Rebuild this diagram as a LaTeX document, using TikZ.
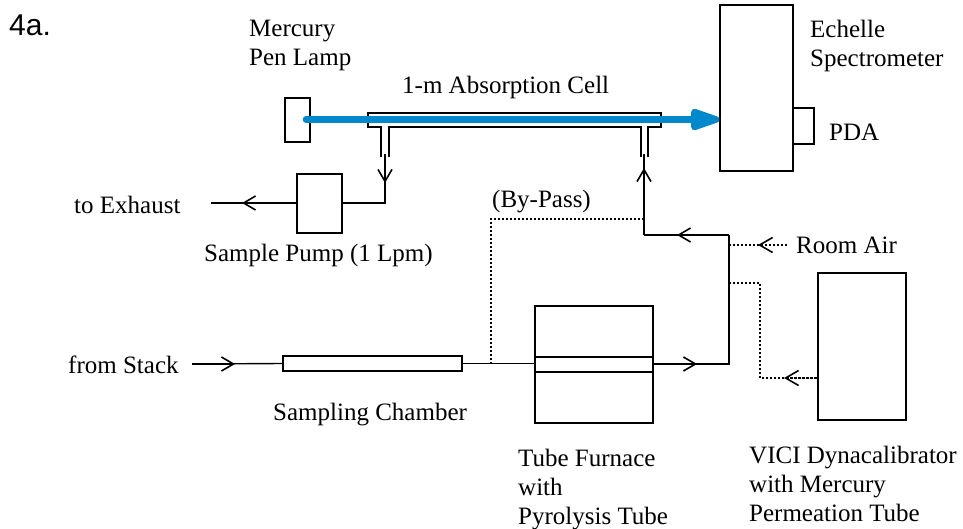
\documentclass[tikz,border=0pt]{standalone}
\usepackage{fontspec}
\setmainfont{Liberation Serif}
\newfontfamily\labelfont{Liberation Sans}
\usetikzlibrary{positioning,arrows.meta}
\definecolor{beamblue}{HTML}{0088CC}
\tikzset{block/.style={draw,line width=1.4pt,inner sep=0pt},
         txt/.style={inner sep=0pt,align=left,anchor=north west,font=\fontsize{25}{29}\selectfont},
         line/.style={line width=1.4pt},
         flow/.style={line width=1.4pt,-{Straight Barb[length=12pt,width=14pt,line width=1.6pt]}},
         dotline/.style={line width=1.4pt,dash pattern=on 2pt off 2pt},
         dotflow/.style={dotline,-{Straight Barb[length=13pt,width=15pt,line width=1.6pt]}}
}

\begin{document}
\begin{tikzpicture}[x=1pt,y=-1pt]
  \useasboundingbox (0,0) rectangle (963,529);
  % boxes
  \node[block,minimum width=25pt,minimum height=44pt] (lamp) at (297.5,120) {};
  \node[block,minimum width=293pt,minimum height=14pt] (cell) at (514.5,120) {};
  \node[block,minimum width=73pt,minimum height=166pt] (spec) at (756.5,88) {};
  \node[block,minimum width=21pt,minimum height=36pt] (pda) at (803.5,126) {};
  \node[block,minimum width=45pt,minimum height=59pt] (pump) at (319.5,203.5) {};
  \node[block,minimum width=179pt,minimum height=15pt] (chamber) at (372.5,363.5) {};
  \node[block,minimum width=118pt,minimum height=117pt] (furnace) at (594,364.5) {};
  \node[block,minimum width=88pt,minimum height=147pt] (vici) at (862,346.5) {};
  % free ends and corners
  \coordinate (exhaust) at (211,203);
  \coordinate (exhausttip) at (242,203);
  \coordinate (pumpout) at (385,154);
  \coordinate (pumpouttip) at (385,183);
  \coordinate (cellin) at (644,154);
  \coordinate (cellintip) at (644,168);
  \coordinate (junction) at (644,235);
  \coordinate (returntip) at (677,235);
  \coordinate (riser) at (729,235);
  \coordinate (stack) at (192,364);
  \coordinate (stacktip) at (235,364);
  \coordinate (tee) at (491,364);
  \coordinate (hot) at (729,364);
  \coordinate (hottip) at (697,364);
  \coordinate (airend) at (787,245);
  \coordinate (airtip) at (758,245);
  \coordinate (air) at (729,245);
  \coordinate (cal) at (729,283);
  \coordinate (calcorner) at (760,283);
  \coordinate (caltip) at (784,378);
  \coordinate (bypass) at (644,219);
  % furnace tube
  \draw[line] (furnace.west |- 0,357) -- (furnace.east |- 0,357);
  \draw[line] (furnace.west |- 0,372) -- (furnace.east |- 0,372);
  % cell ports
  \draw[line] (381,127) -- (381,157);
  \draw[line] (389,127) -- (389,157);
  \draw[line] (641,127) -- (641,157);
  \draw[line] (648,127) -- (648,157);
  \draw[white,line width=1.8pt] (382,127) -- (388,127);
  \draw[white,line width=1.8pt] (642,127) -- (647,127);
  % solid lines
  \draw[line] (pump.west |- exhaust) -- (exhaust);
  \draw[flow] (pump.west |- exhaust) -- (exhausttip);
  \draw[line] (pump.east |- exhaust) -| (pumpout);
  \draw[flow] (pumpout) -- (pumpouttip);
  \draw[line] (junction) -- (cellin);
  \draw[flow] (junction) -- (cellintip);
  \draw[line] (riser) -- (junction);
  \draw[flow] (riser) -- (returntip);
  \draw[line] (furnace.east |- hot) -- (hot) -- (riser);
  \draw[flow] (furnace.east |- hot) -- (hottip);
  \draw[line] (stack) -- (chamber.west);
  \draw[flow] (stack) -- (stacktip);
  \draw[line] (chamber.east) -- (furnace.west |- chamber.east);
  % dotted lines
  \draw[dotline] (tee) |- (bypass);
  \draw[dotline] (airend) -- (air);
  \draw[dotflow] (airend) -- (airtip);
  \draw[dotline] (cal) -- (calcorner) |- (vici.west |- caltip);
  \draw[dotflow] (vici.west |- caltip) -- (caltip);
  % light beam
  \draw[beamblue,line width=6.5pt,line cap=round,-{Triangle[length=36pt,width=22pt,round]}] (306,119.5) -- (spec.west |- 0,119.5);
  % labels
  \node[inner sep=0pt,anchor=north west,font=\labelfont\fontsize{30}{32}\selectfont] (title) at (9,15) {4a.};
  \node[txt] (lamplabel) at (249,20) {Mercury\\Pen Lamp};
  \node[txt] (celllabel) at (402,76) {1-m Absorption Cell};
  \node[txt] (speclabel) at (810,20) {Echelle\\Spectrometer};
  \node[txt] (pdalabel) at (829,124) {PDA};
  \node[txt] (exhaustlabel) at (74,196) {to Exhaust};
  \node[txt] (pumplabel) at (204,244) {Sample Pump (1 Lpm)};
  \node[txt] (bypasslabel) at (492,190) {(By-Pass)};
  \node[txt] (airlabel) at (796,237) {Room Air};
  \node[txt] (stacklabel) at (68,356) {from Stack};
  \node[txt] (chamberlabel) at (273,403) {Sampling Chamber};
  \node[txt] (furnacelabel) at (518,449) {Tube Furnace\\with\\Pyrolysis Tube};
  \node[txt] (vicilabel) at (749,446) {VICI Dynacalibrator\\with Mercury\\Permeation Tube};
\end{tikzpicture}
\end{document}
